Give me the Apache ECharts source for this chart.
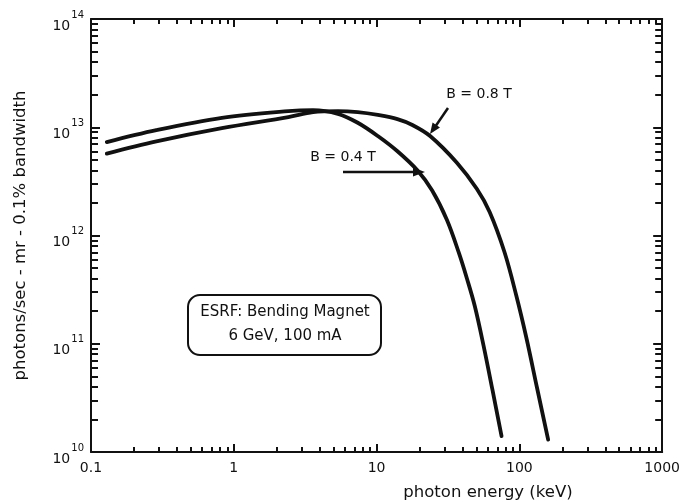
<!DOCTYPE html>
<html>
<head>
<meta charset="utf-8">
<script src="https://cdn.jsdelivr.net/npm/echarts@6/dist/echarts.min.js"></script>
<style>html,body{margin:0;padding:0;background:#fff}#c{width:683px;height:502px}</style>
</head>
<body>
<div id="c"></div>
<script>
// Photon energy (keV) and flux (photons/sec - mr - 0.1% bandwidth)
var energy04 = [0.129, 0.287, 0.825, 2.41, 3.59, 5.36, 7.38, 10.2, 14.0, 19.3, 24.5, 31.1, 37.7, 42.8, 48.7, 56.2, 64.9, 75.0];
var flux04   = [7.3e12, 9.4e12, 1.22e13, 1.41e13, 1.44e13, 1.33e13, 1.10e13, 8.3e12, 6.0e12, 4.0e12, 2.6e12, 1.39e12, 6.9e11, 4.05e11, 2.23e11, 9.5e10, 3.7e10, 1.4e10];
var energy08 = [0.129, 0.287, 0.825, 2.41, 3.59, 5.36, 7.38, 10.2, 14.0, 17.8, 23.7, 36.5, 50.3, 61.9, 78.7, 95.3, 112, 133, 159];
var flux08   = [5.7e12, 7.4e12, 9.8e12, 1.24e13, 1.38e13, 1.41e13, 1.38e13, 1.30e13, 1.19e13, 1.05e13, 8.3e12, 4.7e12, 2.7e12, 1.65e12, 7.0e11, 2.76e11, 1.13e11, 3.9e10, 1.3e10];
var xTickLabels = ['0.1', '1', '10', '100', '1000'];
var yDecades = [10, 11, 12, 13, 14];

function minorTicks(lo, hi) {
  var out = [];
  for (var d = lo; d < hi; d++) for (var k = 2; k <= 9; k++) out.push(d + Math.log10(k));
  return out;
}
function toLog(xs, ys) { return xs.map(function (x, i) { return [Math.log10(x), Math.log10(ys[i])]; }); }

var FONT = 'DejaVu Sans';
var ink = '#111';
var xMinor = minorTicks(-1, 3), yMinor = minorTicks(10, 14);

function xAx(pos, minor) {
  return {
    type: 'value', position: pos, min: -1, max: 3, interval: 1,
    axisLine: { show: !minor, onZero: false, lineStyle: { color: ink, width: 2 } },
    axisTick: minor ? { show: true, inside: true, length: 5, customValues: xMinor, lineStyle: { color: ink, width: 2 } }
                    : { show: true, inside: true, length: 8, lineStyle: { color: ink, width: 2 } },
    axisLabel: (pos === 'bottom' && !minor) ? {
      show: true, margin: 9, color: ink, fontFamily: FONT, fontSize: 14,
      formatter: function (v) { return xTickLabels[Math.round(v) + 1]; }
    } : { show: false },
    splitLine: { show: false }
  };
}
function yAx(pos, minor) {
  return {
    type: 'value', position: pos, min: 10, max: 14, interval: 1,
    axisLine: { show: !minor, onZero: false, lineStyle: { color: ink, width: 2 } },
    axisTick: minor ? { show: true, inside: true, length: 7, customValues: yMinor, lineStyle: { color: ink, width: 2 } }
                    : { show: true, inside: true, length: 9, lineStyle: { color: ink, width: 2 } },
    axisLabel: (pos === 'left' && !minor) ? {
      show: true, margin: 7, color: ink, fontFamily: FONT,
      formatter: function (v) { return '{b|10}{s|' + yDecades[Math.round(v) - 10] + '}'; },
      rich: {
        b: { fontFamily: FONT, fontSize: 14, lineHeight: 14, padding: [14, 0, 0, 0], color: ink },
        s: { fontFamily: FONT, fontSize: 10, lineHeight: 10, padding: [0, 0, 8, 1], color: ink }
      }
    } : { show: false },
    name: (pos === 'left' && !minor) ? 'photons/sec - mr - 0.1% bandwidth' : '',
    nameLocation: 'middle', nameGap: 62,
    nameTextStyle: { color: ink, fontFamily: FONT, fontSize: 16.5 },
    splitLine: { show: false }
  };
}

function arrowHead(tip, from, len, half) {
  var dx = tip[0] - from[0], dy = tip[1] - from[1], L = Math.sqrt(dx * dx + dy * dy);
  var ux = dx / L, uy = dy / L, bx = tip[0] - ux * len, by = tip[1] - uy * len;
  return [[tip[0], tip[1]], [bx - uy * half, by + ux * half], [bx + uy * half, by - ux * half]];
}

var chart = echarts.init(document.getElementById('c'), null, { renderer: 'canvas' });
var lineStyle = { color: ink, width: 3.8, cap: 'round', join: 'round' };
chart.setOption({
  animation: false,
  backgroundColor: '#fff',
  grid: { left: 91, right: 16, top: 19, bottom: 50, containLabel: false },
  xAxis: [xAx('bottom', false), xAx('bottom', true), xAx('top', false), xAx('top', true)],
  yAxis: [yAx('left', false), yAx('left', true), yAx('right', false), yAx('right', true)],
  series: [
    { name: 'B = 0.4 T', type: 'line', data: toLog(energy04, flux04), smooth: 0.35, showSymbol: false, lineStyle: lineStyle, xAxisIndex: 0, yAxisIndex: 0 },
    { name: 'B = 0.8 T', type: 'line', data: toLog(energy08, flux08), smooth: 0.35, showSymbol: false, lineStyle: lineStyle, xAxisIndex: 0, yAxisIndex: 0 }
  ],
  graphic: [
    { type: 'text', x: 488, y: 493, style: { text: 'photon energy (keV)', font: '16.5px ' + FONT, fill: ink, align: 'center', verticalAlign: 'middle' } },
    { type: 'text', x: 479, y: 94, style: { text: 'B = 0.8 T', font: '14px ' + FONT, fill: ink, align: 'center', verticalAlign: 'middle' } },
    { type: 'line', shape: { x1: 448, y1: 108, x2: 435, y2: 127 }, style: { stroke: ink, lineWidth: 2.5 } },
    { type: 'polygon', shape: { points: arrowHead([430, 134], [448, 108], 11, 4.5) }, style: { fill: ink } },
    { type: 'text', x: 343, y: 157, style: { text: 'B = 0.4 T', font: '14px ' + FONT, fill: ink, align: 'center', verticalAlign: 'middle' } },
    { type: 'line', shape: { x1: 343, y1: 172, x2: 414, y2: 172 }, style: { stroke: ink, lineWidth: 2.5 } },
    { type: 'polygon', shape: { points: arrowHead([425, 172], [343, 172], 12, 4.5) }, style: { fill: ink } },
    { type: 'rect', shape: { x: 188, y: 295, width: 193, height: 60, r: 12 }, style: { fill: '#fff', stroke: ink, lineWidth: 2 } },
    { type: 'text', x: 285, y: 312, style: { text: 'ESRF: Bending Magnet', font: '15px ' + FONT, fill: ink, align: 'center', verticalAlign: 'middle' } },
    { type: 'text', x: 285, y: 336, style: { text: '6 GeV, 100 mA', font: '15px ' + FONT, fill: ink, align: 'center', verticalAlign: 'middle' } }
  ]
});
</script>
</body>
</html>
